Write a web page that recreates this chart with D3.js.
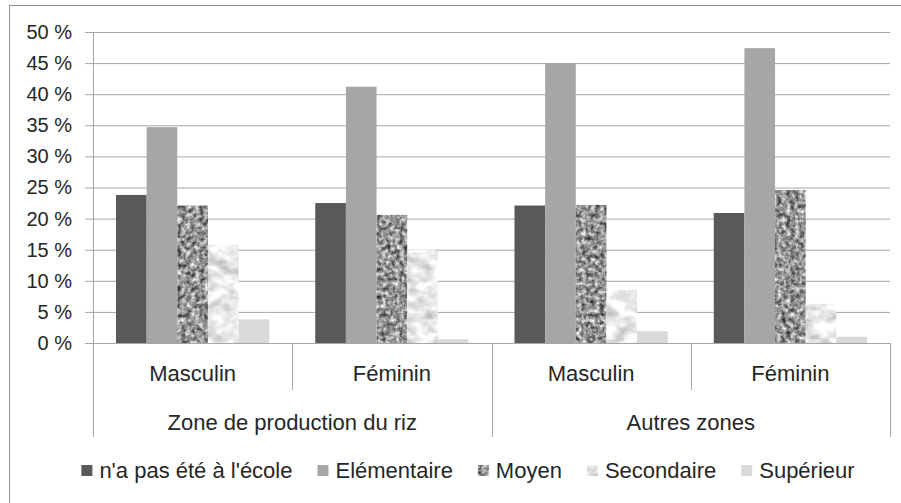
<!DOCTYPE html>
<html lang="fr">
<head>
  <meta charset="UTF-8">
  <title>Niveau d'instruction</title>
  <script src="https://d3js.org/d3.v7.min.js"></script>
  <style>
    html, body { margin: 0; padding: 0; background: #fff; overflow: hidden; }
    svg { font-family: "Liberation Sans", Arial, sans-serif; }
  </style>
</head>
<body>
<div id="chart"></div>

<script>
  // Data
  const categories = ["Masculin", "Féminin", "Masculin", "Féminin"];
  const zones = ["Zone de production du riz", "Autres zones"];
  const levels = ["n'a pas été à l'école", "Elémentaire", "Moyen", "Secondaire", "Supérieur"];
  const nonScolarise = [23.8, 22.5, 22.1, 20.9];
  const elementaire = [34.7, 41.2, 45.0, 47.4];
  const moyen = [22.1, 20.6, 22.2, 24.6];
  const secondaire = [15.8, 15.0, 8.5, 6.3];
  const superieur = [3.8, 0.6, 1.9, 1.0];
  const yTicks = [0, 5, 10, 15, 20, 25, 30, 35, 40, 45, 50];

  const series = [nonScolarise, elementaire, moyen, secondaire, superieur];

  const width = 901, height = 503;
  const plotLeft = 93, plotRight = 890, plotTop = 32, plotBottom = 343;
  const gridColor = "#a6a6a6", textColor = "#262626";

  const svg = d3.select("#chart").append("svg")
    .attr("width", width)
    .attr("height", height);

  // textures for Moyen (granite) and Secondaire (marble)
  const defs = svg.append("defs");
  const granite = defs.append("filter").attr("id", "granite")
    .attr("x", 0).attr("y", 0).attr("width", 1).attr("height", 1)
    .attr("color-interpolation-filters", "sRGB");
  granite.append("feTurbulence").attr("type", "fractalNoise")
    .attr("baseFrequency", 0.22).attr("numOctaves", 3).attr("seed", 4).attr("result", "n");
  granite.append("feColorMatrix").attr("in", "n").attr("type", "matrix")
    .attr("values", "1.2 0 0 0 -0.02  1.2 0 0 0 -0.02  1.2 0 0 0 -0.02  0 0 0 0 1").attr("result", "g");
  granite.append("feComposite").attr("in", "g").attr("in2", "SourceGraphic").attr("operator", "in");

  const marble = defs.append("filter").attr("id", "marble")
    .attr("x", 0).attr("y", 0).attr("width", 1).attr("height", 1)
    .attr("color-interpolation-filters", "sRGB");
  marble.append("feTurbulence").attr("type", "fractalNoise")
    .attr("baseFrequency", "0.06 0.09").attr("numOctaves", 3).attr("seed", 7).attr("result", "n");
  marble.append("feColorMatrix").attr("in", "n").attr("type", "matrix")
    .attr("values", "0.55 0 0 0 0.64  0.55 0 0 0 0.64  0.55 0 0 0 0.64  0 0 0 0 1").attr("result", "g");
  marble.append("feComposite").attr("in", "g").attr("in2", "SourceGraphic").attr("operator", "in");

  const fills = ["#595959", "#a6a6a6", "#8c8c8c", "#eeeeee", "#d9d9d9"];
  const filters = [null, null, "url(#granite)", "url(#marble)", null];

  // outer frame
  svg.append("rect")
    .attr("x", 9.5).attr("y", 5.5)
    .attr("width", 900).attr("height", 520)
    .attr("fill", "none").attr("stroke", "#8c8c8c");

  const y = d3.scaleLinear().domain([0, 50]).range([plotBottom, plotTop]);
  const x0 = d3.scaleBand().domain(d3.range(categories.length)).range([plotLeft, plotRight]);
  const x1 = d3.scaleBand().domain(levels).range([0, x0.bandwidth()])
    .paddingInner(0).paddingOuter(0.75);

  // gridlines + y labels
  const yAxis = d3.axisLeft(y).tickValues(yTicks)
    .tickSize(-(plotRight - plotLeft)).tickFormat(d => d + " %").tickPadding(21);
  const gy = svg.append("g").attr("transform", `translate(${plotLeft},0)`).call(yAxis);
  gy.select(".domain").remove();
  gy.selectAll(".tick line").attr("stroke", gridColor).attr("x1", -8);
  gy.selectAll(".tick text")
    .attr("fill", textColor).attr("font-size", 20).attr("font-family", "Liberation Sans, Arial, sans-serif");

  // vertical axis line
  svg.append("line").attr("x1", plotLeft + 0.5).attr("x2", plotLeft + 0.5)
    .attr("y1", plotTop).attr("y2", plotBottom).attr("stroke", gridColor);

  // bars
  const g = svg.append("g");
  categories.forEach((c, i) => {
    series.forEach((s, k) => {
      g.append("rect")
        .attr("x", x0(i) + x1(levels[k]))
        .attr("y", y(s[i]))
        .attr("width", x1.bandwidth())
        .attr("height", y(0) - y(s[i]))
        .attr("fill", fills[k])
        .attr("filter", filters[k]);
    });
  });

  // category dividers below axis
  const dividers = svg.append("g").attr("stroke", gridColor);
  d3.range(categories.length + 1).forEach(i => {
    const xv = i < categories.length ? x0(i) : plotRight;
    const long = i % 2 === 0;
    dividers.append("line")
      .attr("x1", Math.round(xv) + 0.5).attr("x2", Math.round(xv) + 0.5)
      .attr("y1", plotBottom).attr("y2", long ? 437 : 390);
  });

  // category labels
  svg.append("g").selectAll("text").data(categories).join("text")
    .attr("x", (d, i) => x0(i) + x0.bandwidth() / 2)
    .attr("y", 373).attr("dy", "0.35em")
    .attr("text-anchor", "middle")
    .attr("font-size", 22).attr("fill", textColor)
    .text(d => d);

  svg.append("g").selectAll("text").data(zones).join("text")
    .attr("x", (d, i) => x0(i * 2) + x0.bandwidth())
    .attr("y", 422).attr("dy", "0.35em")
    .attr("text-anchor", "middle")
    .attr("font-size", 22).attr("fill", textColor)
    .text(d => d);

  // legend
  const legend = svg.append("g");
  const items = legend.selectAll("g").data(levels).join("g");
  items.append("rect")
    .attr("y", 465).attr("width", 11).attr("height", 11)
    .attr("fill", (d, k) => fills[k])
    .attr("filter", (d, k) => filters[k]);
  items.append("text")
    .attr("x", 18).attr("y", 470).attr("dy", "0.35em")
    .attr("font-size", 22).attr("fill", textColor)
    .text(d => d);

  let offset = 0;
  const positions = [];
  items.each(function() {
    positions.push(offset);
    offset += 18 + this.querySelector("text").getComputedTextLength() + 25;
  });
  const total = offset - 25;
  const start = 468 - total / 2;
  items.attr("transform", (d, k) => `translate(${start + positions[k]},0)`);
</script>
</body>
</html>
